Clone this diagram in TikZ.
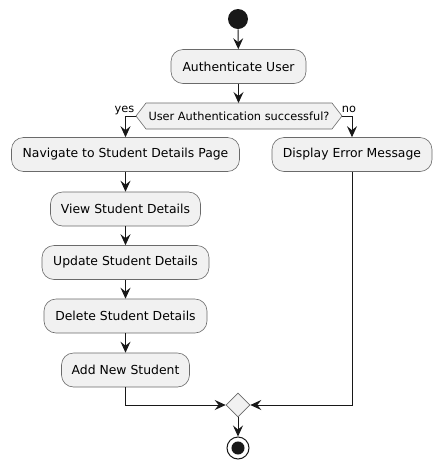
\documentclass[tikz,border=0pt]{standalone}
\usepackage{fontspec}
\setmainfont{DejaVu Sans}
\usetikzlibrary{arrows.meta,shapes.geometric}
\definecolor{boxfill}{HTML}{F1F1F1}
\definecolor{ink}{HTML}{181818}
\definecolor{edge}{HTML}{6A6A6A}
\begin{document}
\begin{tikzpicture}[x=0.75pt,y=-0.75pt,
  act/.style={draw=edge, fill=boxfill, rounded corners=9pt, line width=0.45pt,
    minimum height=25.5pt, inner sep=0pt, font=\fontsize{9.3}{11}\selectfont, text=black},
  flow/.style={draw=ink, line width=0.75pt, -{Stealth[length=8.25pt,width=7.5pt,inset=3pt]}},
  lbl/.style={font=\fontsize{8.5}{10}\selectfont, inner sep=0pt, text=black}]
\useasboundingbox (0,0) rectangle (441,469);
% start
\node[circle, fill=ink, minimum size=15pt, inner sep=0pt] (start) at (238,19) {};
\node[act, minimum width=101.25pt] (auth) at (238.5,66.5) {Authenticate User};
% decision hexagon
\coordinate (decL) at (136,116);
\coordinate (decR) at (342,116);
\coordinate (decT) at (238.5,103);
\filldraw[draw=edge, fill=boxfill, line width=0.45pt]
  (decL) -- (146,103) -- (332,103) -- (decR) -- (332,129) -- (146,129) -- cycle;
\node[lbl] (dec) at (239,116) {User Authentication successful?};
\node[lbl, anchor=base] (yes) at (124.5,112.5) {yes};
\node[lbl, anchor=base] (no) at (349,112.5) {no};
% branches
\node[act, minimum width=171pt] (nav) at (125.5,154.5) {Navigate to Student Details Page};
\node[act, minimum width=112.5pt] (view) at (125.5,209) {View Student Details};
\node[act, minimum width=125.25pt] (upd) at (125.5,262.5) {Update Student Details};
\node[act, minimum width=122.25pt] (del) at (125.5,316) {Delete Student Details};
\node[act, minimum width=96pt] (add) at (125.5,370) {Add New Student};
\node[act, minimum width=120pt] (err) at (352,154.5) {Display Error Message};
% merge and stop
\node[diamond, draw=edge, fill=boxfill, line width=0.45pt, minimum width=18pt, minimum height=18pt, inner sep=0pt] (merge) at (238,405) {};
\node[circle, draw=ink, line width=0.75pt, fill=white, minimum size=16.5pt, inner sep=0pt] (stop) at (238,448) {};
\fill[ink] (stop.center) circle (4.9pt);
% connectors
\draw[flow] (start) -- (auth);
\draw[flow] (auth) -- (decT);
\draw[flow] (decL) -| (nav.north);
\draw[flow] (decR) -| (err.north);
\draw[flow] (nav) -- (view);
\draw[flow] (view) -- (upd);
\draw[flow] (upd) -- (del);
\draw[flow] (del) -- (add);
\draw[flow] (add.south) |- (merge.west);
\draw[flow] (err.south) |- (merge.east);
\draw[flow] (merge) -- (stop);
\end{tikzpicture}
\end{document}
